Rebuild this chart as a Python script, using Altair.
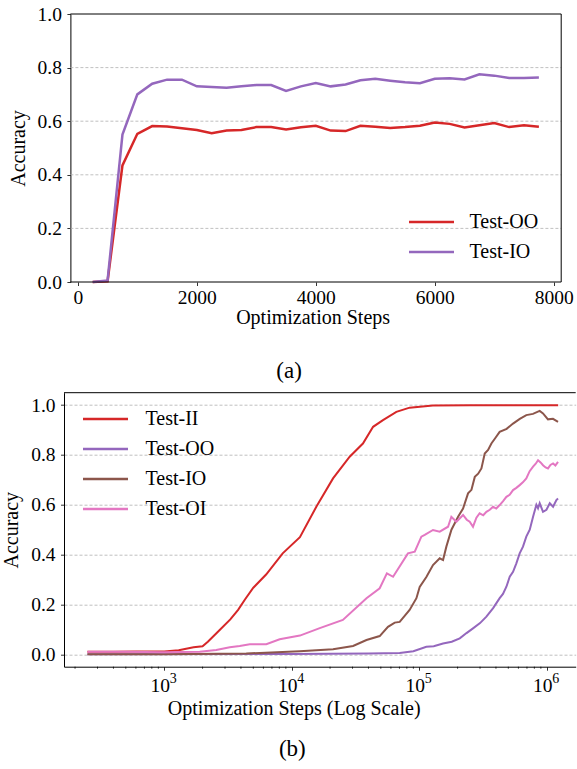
import altair as alt
import pandas as pd

FONT = "Liberation Serif"

# ---------------- Panel (a) data ----------------
a_steps = [250, 500, 750, 1000, 1250, 1500, 1750, 2000, 2250, 2500, 2750, 3000,
           3250, 3500, 3750, 4000, 4250, 4500, 4750, 5000, 5250, 5500, 5750,
           6000, 6250, 6500, 6750, 7000, 7250, 7500, 7750]
a_oo = [0.0, 0.003, 0.435, 0.553, 0.582, 0.580, 0.574, 0.567, 0.555, 0.565, 0.567,
        0.578, 0.578, 0.569, 0.577, 0.583, 0.565, 0.563, 0.583, 0.579, 0.575,
        0.578, 0.583, 0.595, 0.590, 0.577, 0.585, 0.593, 0.578, 0.585, 0.579]
a_io = [0.0, 0.006, 0.550, 0.700, 0.740, 0.755, 0.755, 0.730, 0.728, 0.725, 0.730,
        0.735, 0.735, 0.713, 0.730, 0.742, 0.730, 0.737, 0.753, 0.758, 0.751,
        0.745, 0.742, 0.758, 0.760, 0.756, 0.775, 0.770, 0.761, 0.761, 0.763]
a_series = ["Test-OO", "Test-IO"]
a_colors = ["#d62728", "#9467bd"]
a_xticks = [0, 2000, 4000, 6000, 8000]
a_yticks = [0.0, 0.2, 0.4, 0.6, 0.8, 1.0]
a_grid = [0.2, 0.4, 0.6, 0.8]

# ---------------- Panel (b) data ----------------
ii_steps = [250, 400, 600, 1000, 1300, 1700, 2000, 2200, 2700, 3300, 3800, 4300,
            5000, 6300, 8500, 11600, 15600, 21100, 28500, 36200, 43500, 52000,
            66200, 84100, 128000, 250000, 500000, 1000000, 1230000]
ii_acc = [0.010, 0.010, 0.011, 0.011, 0.016, 0.028, 0.032, 0.050, 0.095, 0.140,
          0.178, 0.220, 0.267, 0.320, 0.405, 0.470, 0.592, 0.706, 0.793, 0.846,
          0.913, 0.940, 0.973, 0.990, 0.999, 1.0, 1.0, 1.0, 1.0]

oo_steps = [250, 10000, 40000, 70300, 90000, 113800, 130000, 153800, 180000,
            208000, 235000, 264200, 300000, 336500, 380000, 427600, 454000,
            482800, 512900, 544500, 578000, 613800, 651600, 691800, 736200,
            781600, 829800, 855000, 881000, 935400, 995400, 1057000, 1122000,
            1191000, 1227000]
oo_acc = [0.0, 0.001, 0.003, 0.005, 0.012, 0.030, 0.032, 0.043, 0.050, 0.064,
          0.085, 0.104, 0.125, 0.151, 0.185, 0.225, 0.242, 0.271, 0.311, 0.331,
          0.365, 0.405, 0.432, 0.472, 0.500, 0.552, 0.600, 0.586, 0.606, 0.572,
          0.580, 0.606, 0.592, 0.619, 0.625]

io_steps = [250, 1000, 4400, 11560, 21100, 30300, 38600, 49000, 56900, 64300,
            70300, 84100, 95100, 100900, 113800, 128300, 144900, 153800, 163300,
            179000, 201800, 220800, 241600, 257000, 272900, 290000, 307600,
            326600, 347000, 368300, 398000, 427600, 485000, 544500, 615000,
            691800, 780000, 881000, 935400, 1023000, 1120000, 1227000]
io_acc = [0.0, 0.0, 0.003, 0.012, 0.020, 0.033, 0.057, 0.073, 0.110, 0.127,
          0.130, 0.178, 0.225, 0.270, 0.310, 0.358, 0.385, 0.378, 0.432, 0.500,
          0.552, 0.585, 0.646, 0.660, 0.712, 0.725, 0.746, 0.806, 0.820, 0.846,
          0.870, 0.893, 0.905, 0.926, 0.945, 0.960, 0.965, 0.977, 0.967, 0.943,
          0.945, 0.933]

oi_steps = [250, 500, 1000, 1900, 2560, 3270, 3910, 4690, 6320, 8050, 11600,
            16600, 25200, 38600, 49000, 55800, 62400, 81600, 92300, 104000,
            110500, 128300, 144900, 168300, 178700, 195700, 220800, 236000,
            248900, 264200, 281000, 297900, 318000, 336500, 358000, 379400,
            402000, 427600, 455000, 482800, 512000, 544500, 578000, 613800,
            650000, 691800, 735000, 781600, 820000, 855000, 895000, 935400,
            980000, 1023000, 1070000, 1122000, 1170000, 1227000]
oi_acc = [0.010, 0.010, 0.008, 0.010, 0.017, 0.028, 0.033, 0.040, 0.040, 0.060,
          0.075, 0.105, 0.138, 0.225, 0.265, 0.325, 0.311, 0.405, 0.412, 0.472,
          0.479, 0.499, 0.492, 0.512, 0.552, 0.532, 0.559, 0.540, 0.532, 0.512,
          0.548, 0.566, 0.558, 0.572, 0.580, 0.592, 0.585, 0.599, 0.615, 0.632,
          0.640, 0.659, 0.668, 0.679, 0.690, 0.706, 0.735, 0.753, 0.765, 0.779,
          0.770, 0.759, 0.750, 0.746, 0.760, 0.766, 0.758, 0.772]

b_series = ["Test-II", "Test-OO", "Test-IO", "Test-OI"]
b_colors = ["#d62728", "#9467bd", "#8c564b", "#e377c2"]
b_major = [1000, 10000, 100000, 1000000]
b_exps = ["3", "4", "5", "6"]
b_minor = [200, 300, 400, 500, 600, 700, 800, 900,
           2000, 3000, 4000, 5000, 6000, 7000, 8000, 9000,
           20000, 30000, 40000, 50000, 60000, 70000, 80000, 90000,
           200000, 300000, 400000, 500000, 600000, 700000, 800000, 900000]
b_yticks = [0.0, 0.2, 0.4, 0.6, 0.8, 1.0]

# ---------------- layout constants ----------------
W_A, H_A = 497.2, 268
W_B, H_B = 511.7, 274
OFF = 6.4  # distance from panel-a plot edge to its left spine

# ================= Panel (a) =================
df_a = pd.concat([
    pd.DataFrame({"step": a_steps, "acc": a_oo, "series": a_series[0]}),
    pd.DataFrame({"step": a_steps, "acc": a_io, "series": a_series[1]}),
], ignore_index=True)

xs_a = alt.Scale(domain=[-232.6, 8125], nice=False, zero=False)
ys_a = alt.Scale(domain=[0, 1], nice=False, zero=False)
xax_a = alt.Axis(values=a_xticks, format="d", title="Optimization Steps",
                 domain=False, grid=False, tickSize=3.5,
                 labelPadding=2.5, titlePadding=1)
yax_a = alt.Axis(values=a_yticks, format=".1f", title="Accuracy",
                 offset=-OFF, grid=False, tickSize=3.5,
                 labelPadding=5.5, titlePadding=9)

lines_a = alt.Chart(df_a).mark_line(strokeWidth=2.5).encode(
    x=alt.X("step:Q", scale=xs_a, axis=xax_a),
    y=alt.Y("acc:Q", scale=ys_a, axis=yax_a),
    color=alt.Color("series:N",
                    scale=alt.Scale(domain=a_series, range=a_colors),
                    legend=alt.Legend(title=None, orient="none",
                                      legendX=343.5, legendY=198,
                                      symbolType="stroke", symbolSize=2025,
                                      symbolStrokeWidth=2.5, clipHeight=20,
                                      rowPadding=10, labelOffset=14, padding=0)),
)

grid_a = alt.Chart(pd.DataFrame({"acc": a_grid})).mark_rule(
    color="#b0b0b0", strokeWidth=0.8, strokeDash=[3, 2]
).encode(
    y=alt.Y("acc:Q", scale=ys_a, axis=yax_a),
    x=alt.value(OFF), x2=alt.value(W_A),
)

one = pd.DataFrame({"k": [0]})
top_a = alt.Chart(one).mark_rule(color="black", strokeWidth=1).encode(
    x=alt.value(OFF), x2=alt.value(W_A), y=alt.value(0))
bot_a = alt.Chart(one).mark_rule(color="black", strokeWidth=1).encode(
    x=alt.value(OFF), x2=alt.value(W_A), y=alt.value(H_A))
right_a = alt.Chart(one).mark_rule(color="black", strokeWidth=1).encode(
    x=alt.value(W_A), y=alt.value(0), y2=alt.value(H_A))

panel_a = alt.layer(grid_a, lines_a, top_a, bot_a, right_a).properties(
    width=W_A, height=H_A,
    title=alt.TitleParams("(a)", orient="bottom", anchor="middle", frame="group",
                          dx=-23.5, offset=32, fontSize=23, font=FONT,
                          fontWeight="normal", color="black"),
)

# ================= Panel (b) =================
df_b = pd.concat([
    pd.DataFrame({"step": ii_steps, "acc": ii_acc, "series": b_series[0]}),
    pd.DataFrame({"step": oo_steps, "acc": oo_acc, "series": b_series[1]}),
    pd.DataFrame({"step": io_steps, "acc": io_acc, "series": b_series[2]}),
    pd.DataFrame({"step": oi_steps, "acc": oi_acc, "series": b_series[3]}),
], ignore_index=True)

xs_b = alt.Scale(type="log", domain=[163.8, 1688000], nice=False)
ys_b = alt.Scale(domain=[-0.05, 1.05], nice=False, zero=False)
xax_b = alt.Axis(values=b_major, labelExpr="'10'", labelOffset=-4.4,
                 title="Optimization Steps (Log Scale)", titleX=229.7,
                 grid=False, tickSize=3.5, labelPadding=6.5, titlePadding=3.5)
yax_b = alt.Axis(values=b_yticks, format=".1f", title="Accuracy",
                 grid=True, gridDash=[3, 2], gridColor="#b0b0b0",
                 gridWidth=0.8, tickSize=3.5, labelPadding=5.5, titlePadding=9)

lines_b = alt.Chart(df_b).mark_line(strokeWidth=2).encode(
    x=alt.X("step:Q", scale=xs_b, axis=xax_b),
    y=alt.Y("acc:Q", scale=ys_b, axis=yax_b),
    color=alt.Color("series:N",
                    scale=alt.Scale(domain=b_series, range=b_colors),
                    legend=alt.Legend(title=None, orient="none",
                                      legendX=17.5, legendY=16.3,
                                      symbolType="stroke", symbolSize=2025,
                                      symbolStrokeWidth=2.5, clipHeight=20,
                                      rowPadding=10, labelOffset=16, padding=0)),
)

minor_b = alt.Chart(pd.DataFrame({"step": b_minor})).transform_filter(
    "datum.step > 163.8 && datum.step < 1688000"
).mark_rule(color="black", strokeWidth=0.8).encode(
    x=alt.X("step:Q", scale=xs_b, axis=xax_b),
    y=alt.value(H_B), y2=alt.value(H_B + 2),
)

exp_b = alt.Chart(pd.DataFrame({"step": b_major, "exp": b_exps})).mark_text(
    font=FONT, fontSize=14, dx=9, baseline="middle", align="center", color="black"
).encode(
    x=alt.X("step:Q", scale=xs_b, axis=xax_b),
    y=alt.value(H_B + 12),
    text="exp:N",
)

top_b = alt.Chart(one).mark_rule(color="black", strokeWidth=1).encode(
    x=alt.value(0), x2=alt.value(W_B), y=alt.value(0))

panel_b = alt.layer(lines_b, minor_b, exp_b, top_b).properties(
    width=W_B, height=H_B,
    title=alt.TitleParams("(b)", orient="bottom", anchor="middle", frame="group",
                          dx=-27.5, offset=19, fontSize=23, font=FONT,
                          fontWeight="normal", color="black"),
)

chart = alt.vconcat(panel_a, panel_b, spacing=8.7).resolve_scale(
    x="independent", y="independent", color="independent"
).properties(
    padding={"left": 1, "top": 3, "right": 0, "bottom": 0},
    background="white",
).configure_view(
    stroke="transparent"
).configure_axis(
    labelFont=FONT, titleFont=FONT, labelFontSize=19.5, titleFontSize=20,
    labelColor="black", titleColor="black", titleFontWeight="normal",
    tickColor="black", tickWidth=0.8, domainColor="black", domainWidth=1,
).configure_legend(
    labelFont=FONT, labelFontSize=20, labelColor="black",
)

chart.save("out.html", embed_options={"renderer": "svg", "actions": False})
